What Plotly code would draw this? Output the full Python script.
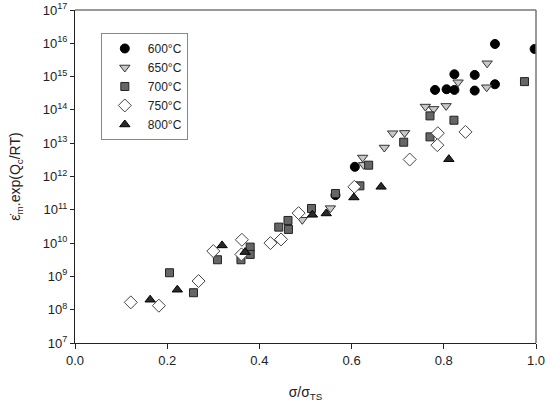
import plotly.graph_objects as go

# sigma / sigma_TS  and  log10(strain-rate term) per temperature
x_600 = [0.911, 0.997, 0.823, 0.867, 0.781, 0.806, 0.823, 0.867, 0.911, 0.607, 0.565]
y_600 = [15.98, 15.83, 15.07, 15.05, 14.60, 14.62, 14.60, 14.58, 14.77, 12.29, 11.44]

x_650 = [0.894, 0.831, 0.893, 0.760, 0.778, 0.805, 0.689, 0.715, 0.671, 0.624, 0.626, 0.554, 0.493]
y_650 = [15.40, 14.83, 14.68, 14.10, 14.03, 14.12, 13.30, 13.31, 12.87, 12.57, 12.35, 11.05, 10.70]

x_700 = [0.975, 0.822, 0.770, 0.713, 0.770, 0.637, 0.618, 0.565, 0.513, 0.462, 0.442,
         0.463, 0.380, 0.380, 0.360, 0.309, 0.257, 0.205]
y_700 = [14.85, 13.69, 13.82, 13.03, 13.19, 12.34, 11.72, 11.49, 11.04, 10.68, 10.48,
         10.41, 9.88, 9.66, 9.50, 9.50, 8.51, 9.11]

x_750 = [0.787, 0.847, 0.786, 0.726, 0.606, 0.485, 0.447, 0.424, 0.362, 0.300, 0.361,
         0.268, 0.121, 0.182]
y_750 = [13.30, 13.34, 12.94, 12.51, 11.69, 10.90, 10.11, 10.00, 10.10, 9.76, 9.66,
         8.86, 8.22, 8.12]

x_800 = [0.811, 0.664, 0.605, 0.545, 0.515, 0.369, 0.319, 0.222, 0.163]
y_800 = [12.52, 11.69, 11.37, 10.89, 10.85, 9.73, 9.93, 8.60, 8.30]

y_exponents = list(range(7, 18))
x_ticks = [0.0, 0.2, 0.4, 0.6, 0.8, 1.0]

series = [
    ("600°C", x_600, y_600, "circle", 9, "#000000", "#000000"),
    ("650°C", x_650, y_650, "triangle-down", 9, "#c8c8c8", "#333333"),
    ("700°C", x_700, y_700, "square", 8, "#666666", "#222222"),
    ("750°C", x_750, y_750, "diamond", 10, "#ffffff", "#444444"),
    ("800°C", x_800, y_800, "triangle-up", 9, "#2a2a2a", "#000000"),
]

fig = go.Figure()
for name, xs, ys, symbol, size, fill, edge in series:
    fig.add_trace(go.Scatter(
        x=xs,
        y=[10 ** v for v in ys],
        mode="markers",
        name=name,
        marker=dict(symbol=symbol, size=size, color=fill,
                    line=dict(color=edge, width=1)),
    ))

fig.update_layout(
    width=550,
    height=406,
    margin=dict(l=75, r=14, t=10, b=63),
    paper_bgcolor="white",
    plot_bgcolor="white",
    font=dict(family="Liberation Sans, Arial, sans-serif", size=13, color="#222222"),
    showlegend=True,
    legend=dict(
        x=0.056, y=0.931, xanchor="left", yanchor="top",
        bordercolor="#888888", borderwidth=1,
        font=dict(size=12),
        itemsizing="trace",
        itemwidth=36,
        tracegroupgap=0,
    ),
    shapes=[
        dict(type="line", xref="paper", yref="paper", x0=0, x1=1, y0=1, y1=1,
             line=dict(color="#777777", width=1.5)),
        dict(type="line", xref="paper", yref="paper", x0=1, x1=1, y0=0, y1=1,
             line=dict(color="#777777", width=1.5)),
    ],
)

fig.update_xaxes(
    range=[0, 1.0],
    tickvals=x_ticks,
    ticktext=[f"{t:.1f}" for t in x_ticks],
    ticks="outside", ticklen=5, tickcolor="#222222",
    ticklabeloverflow="allow", automargin=False,
    showline=True, linecolor="#222222", linewidth=1,
    showgrid=False, zeroline=False,
    title=dict(text="σ/σ<sub>TS</sub>", font=dict(size=14), standoff=20),
)
fig.update_yaxes(
    type="log",
    range=[7, 17],
    tickvals=[10 ** e for e in y_exponents],
    ticktext=[f"10<sup>{e}</sup>" for e in y_exponents],
    ticks="outside", ticklen=4, tickcolor="#222222",
    ticklabeloverflow="allow", automargin=False,
    showline=True, linecolor="#222222", linewidth=1,
    showgrid=False, zeroline=False,
    title=dict(text="ε̇<sub>m</sub>.exp(Q<sub>c</sub>/RT)", font=dict(size=14), standoff=18),
)

# drop the default 8px body margin so the figure sits at the window's corner
fig.write_html("out.html", config={"displayModeBar": False},
               post_script="document.body.style.margin='0';")
